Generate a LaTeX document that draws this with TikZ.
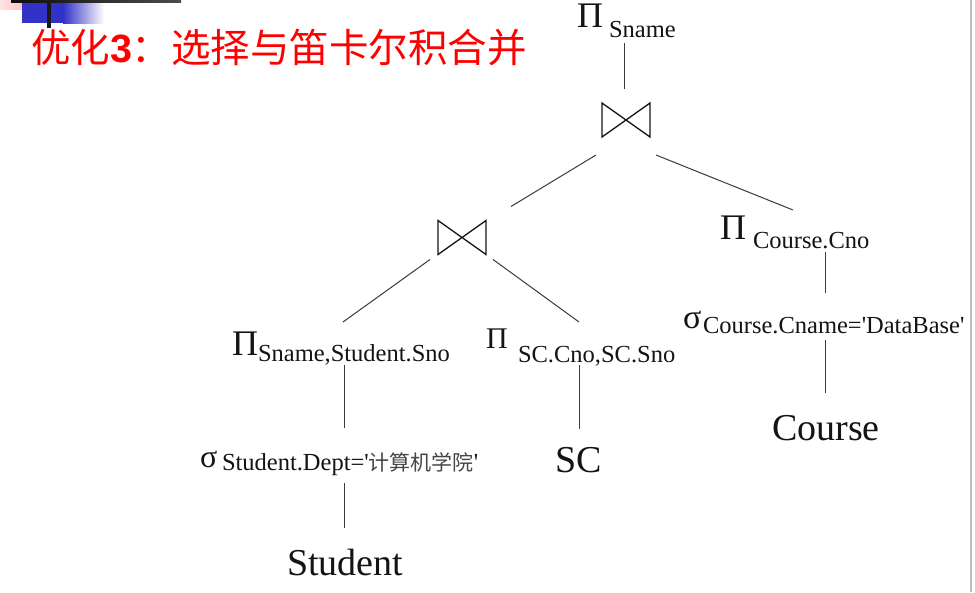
\documentclass[tikz,border=0pt]{standalone}
\usepackage{fontspec}
\setmainfont{Liberation Serif}[Ligatures=TeXOff]
\newfontfamily\cjk{Noto Sans CJK SC}
\newfontfamily\titlesans{Liberation Sans}
\definecolor{titlered}{RGB}{255,0,0}
\definecolor{edgegray}{RGB}{58,58,58}
\definecolor{inkblack}{RGB}{20,20,20}
\definecolor{hanzigray}{RGB}{70,70,70}
\definecolor{barblue}{RGB}{50,50,200}
\definecolor{framegray}{RGB}{190,190,190}
\tikzset{
  txt/.style={inner sep=0pt, outer sep=0pt, anchor=base west, text=inkblack},
  bigop/.style={txt, font=\fontsize{36}{36}\selectfont},
  smallop/.style={txt, font=\fontsize{30}{30}\selectfont},
  subtxt/.style={txt, font=\fontsize{24.5}{25}\selectfont},
  reltxt/.style={txt, font=\fontsize{38}{40}\selectfont},
  joinop/.style={minimum width=48pt, minimum height=34pt, inner sep=0pt, outer sep=0pt},
  edge/.style={draw=edgegray, line width=1pt},
  bowtie/.style={draw=inkblack, line width=1.3pt, line join=miter}
}
\begin{document}
\begin{tikzpicture}[x=1pt, y=-1pt]
\useasboundingbox (0,0) rectangle (975,592);
\fill[white] (0,0) rectangle (975,592);

% corner ornament
\shade[left color={rgb,255:red,255;green,228;blue,228}, right color={rgb,255:red,255;green,172;blue,172}] (0,0) rectangle (39,9);
\fill[barblue] (22,2) rectangle (63,23);
\shade[left color=barblue, right color=white] (63,2) rectangle (104,23);
\shade[left color=black!95, right color=black!70] (11,0) rectangle (181,2);
\fill[black!90] (47,2) rectangle (51,28);

% right frame line
\draw[framegray, line width=1.5pt] (971,0) -- (971,592);

% title
\node[txt, text=titlered, font=\fontsize{39.5}{40}\selectfont] (title) at (31,62)
  {\cjk 优化{\titlesans\bfseries 3}：选择与笛卡尔积合并};

% top projection
\node[bigop] (piT) at (577,27) {Π};
\node[subtxt] (subT) at (609,37) {Sname};

% joins
\node[joinop] (jt) at (626,120) {};
\node[joinop] (jl) at (462,237.5) {};
\draw[bowtie] (jt.north west) -- (jt.south east) -- (jt.north east) -- (jt.south west) -- cycle;
\draw[bowtie] (jl.north west) -- (jl.south east) -- (jl.north east) -- (jl.south west) -- cycle;

% Course branch
\node[bigop] (piC) at (720,239) {Π};
\node[subtxt] (subC) at (753,248) {Course.Cno};
\node[txt, font=\fontsize{34}{34}\selectfont] (sgC) at (683,328) {σ};
\node[subtxt] (subCs) at (703,333) {Course.Cname='DataBase'};
\node[reltxt] (course) at (772,440) {Course};

% Student branch
\node[bigop] (piS) at (232,355) {Π};
\node[subtxt] (subS) at (258,361) {Sname,Student.Sno};
\node[txt, font=\fontsize{32}{32}\selectfont] (sgS) at (200,467) {σ};
\node[subtxt] (subSg) at (222,470) {Student.Dept='{\cjk\color{hanzigray}\fontsize{21}{21}\selectfont 计算机学院}'};
\node[reltxt] (student) at (287,575) {Student};

% SC branch
\node[smallop] (piSC) at (486,348) {Π};
\node[subtxt] (subSC) at (518,362) {SC.Cno,SC.Sno};
\node[reltxt] (sc) at (555,472) {SC};

% connectors
\draw[edge] ([shift={(15,6)}]subT.base west) -- ([shift={(-2,-14)}]jt.north);
\draw[edge] ([shift={(-6,18)}]jt.south west) -- ([shift={(25,-14)}]jl.north east);
\draw[edge] ([shift={(6,18)}]jt.south east) -- ([shift={(73,-29)}]piC.base west);
\draw[edge] ([shift={(-8,5)}]jl.south west) -- ([shift={(85,-39)}]subS.base west);
\draw[edge] ([shift={(7,5)}]jl.south east) -- ([shift={(61,-40)}]subSC.base west);
\draw[edge] ([shift={(86,4)}]subS.base west) -- ([shift={(122,-42)}]subSg.base west);
\draw[edge] ([shift={(122,13)}]subSg.base west) -- ([shift={(57,-47)}]student.base west);
\draw[edge] ([shift={(61,3)}]subSC.base west) -- ([shift={(24,-43)}]sc.base west);
\draw[edge] ([shift={(72,4)}]subC.base west) -- ([shift={(122,-40)}]subCs.base west);
\draw[edge] ([shift={(122,7)}]subCs.base west) -- ([shift={(53,-47)}]course.base west);
\end{tikzpicture}
\end{document}
